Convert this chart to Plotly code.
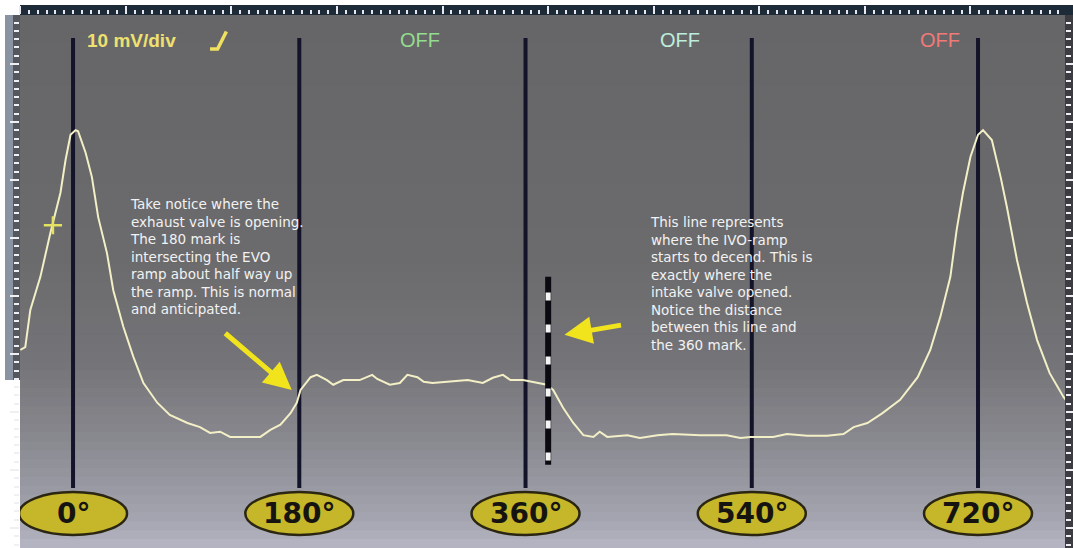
import plotly.graph_objects as go

# ---------------- data (crank degrees vs. signal in mV) ----------------
crank_deg = [-42, -38, -34, -26, -18, -10, -6, -2, 2, 4, 10, 15, 20, 27, 32, 40, 48, 56, 67, 77,
             91, 101, 109, 117, 125, 149, 157, 165, 173, 178, 181, 189, 194, 202, 207, 215, 228,
             238, 242, 252, 260, 266, 274, 279, 286, 298, 314, 326, 334, 342, 348, 358, 366, 377,
             382, 390, 398, 406, 414, 419, 425, 441, 451, 465, 477, 499, 520, 531, 539, 557, 568,
             584, 600, 613, 621, 632, 644, 658, 672, 682, 690, 698, 703, 708, 714, 720, 724, 731,
             738, 743, 751, 759, 767, 777, 788, 796]
signal_mv = [20.7, 21.2, 27.6, 33.3, 40.9, 47.8, 53.4, 57.8, 58.6, 58.4, 54.7, 50.5, 43.6, 37.4,
             31.0, 24.7, 19.5, 15.0, 11.6, 9.5, 8.1, 7.4, 6.4, 6.6, 5.7, 5.7, 6.9, 7.8, 9.8, 11.6,
             13.8, 16.0, 16.4, 15.5, 14.7, 15.5, 15.5, 16.4, 15.7, 14.7, 15.0, 16.4, 16.0, 15.2,
             15.0, 15.2, 15.5, 15.0, 15.9, 16.4, 15.5, 15.5, 15.2, 14.7, 13.8, 10.7, 8.1, 6.0, 5.7,
             6.6, 5.7, 6.0, 5.5, 6.0, 6.2, 6.0, 6.0, 5.5, 5.7, 5.7, 6.2, 5.9, 5.9, 6.2, 7.4, 8.1,
             9.8, 12.1, 16.0, 20.7, 26.4, 33.3, 41.4, 47.8, 54.0, 57.8, 58.6, 56.9, 50.5, 45.3,
             36.2, 28.8, 22.4, 16.7, 12.6, 10.3]

marker_deg = [0, 180, 360, 540, 720]
marker_labels = ["0°", "180°", "360°", "540°", "720°"]
ivo_deg = 378
trigger_deg = -16
trigger_mv = 42.2
channel_deg = [276, 483, 690]
channel_labels = ["OFF", "OFF", "OFF"]
scale_label = "10 mV/div"

note_left = ["Take notice where the", "exhaust valve is opening.", "The 180 mark is",
             "intersecting the EVO", "ramp about half way up", "the ramp. This is normal",
             "and anticipated."]
note_right = ["This line represents", "where the IVO-ramp", "starts to decend. This is",
              "exactly where the", "intake valve opened.", "Notice the distance",
              "between this line and", "the 360 mark."]

# ---------------- styling constants ----------------
W, H = 1073, 548
ML, MR, MT, MB = 20, 8, 15, 0
X_RANGE = [-42.2, 789.2]
Y_RANGE = [-13.45, 78.45]
LINE_TOP, LINE_BOT = 74.5, -3.1
LABEL_Y = -7.5
PW, PH = W - ML - MR, H - MT - MB

fig = go.Figure()

# background gradient (bands in paper coords)
stops = [(0.0, (0xb6, 0xb6, 0xc4)), (0.05, (0xa6, 0xa6, 0xb2)), (0.12, (0x98, 0x98, 0xa2)),
         (0.22, (0x86, 0x86, 0x8c)), (0.35, (0x74, 0x74, 0x78)), (0.55, (0x6b, 0x6b, 0x6d)),
         (1.0, (0x66, 0x66, 0x68))]


def interp(t):
    for (t0, c0), (t1, c1) in zip(stops[:-1], stops[1:]):
        if t0 <= t <= t1:
            f = (t - t0) / (t1 - t0)
            return "rgb(%d,%d,%d)" % tuple(round(a + (b - a) * f) for a, b in zip(c0, c1))
    return "rgb(102,102,104)"


shapes = []
N = 60
for i in range(N):
    y0 = i / N
    y1 = (i + 1) / N
    shapes.append(dict(type="rect", xref="paper", yref="paper", x0=0, x1=1, y0=y0, y1=y1 + 0.002,
                       fillcolor=interp((y0 + y1) / 2), line=dict(width=0), layer="below"))

# top ruler band
shapes.append(dict(type="rect", xref="paper", yref="paper", x0=0, x1=1 + MR / PW,
                   y0=1, y1=1 + 10 / PH, fillcolor="#1d2b39", line=dict(width=0), layer="below"))
# left ruler strip
shapes.append(dict(type="rect", xref="paper", yref="paper", x0=-15 / PW, x1=0,
                   y0=(548 - 380) / PH, y1=1, fillcolor="#8a93a1", line=dict(width=0),
                   layer="below"))
shapes.append(dict(type="rect", xref="paper", yref="paper", x0=-7 / PW, x1=0,
                   y0=(548 - 380) / PH, y1=1, fillcolor="#55575e", line=dict(width=0),
                   layer="below"))
# right ruler strip
shapes.append(dict(type="rect", xref="paper", yref="paper", x0=1, x1=1 + MR / PW,
                   y0=0, y1=1, fillcolor="#3c3c42", line=dict(width=0), layer="below"))

# crank-angle marker lines
for d in marker_deg:
    shapes.append(dict(type="line", xref="x", yref="y", x0=d, x1=d, y0=LINE_BOT, y1=LINE_TOP,
                       line=dict(color="#13132a", width=4), layer="below"))

# label ellipses
for d in marker_deg:
    shapes.append(dict(type="circle", xref="x", yref="y", xsizemode="pixel", ysizemode="pixel",
                       xanchor=d, yanchor=LABEL_Y, x0=-54, x1=54, y0=-21.5, y1=21.5,
                       fillcolor="#c6b62a", line=dict(color="#2a2612", width=2.5), layer="above"))

# trigger slope icon
shapes.append(dict(type="path", xref="x", yref="y",
                   path="M 109 72.6 L 115 72.6 L 122 75.6",
                   line=dict(color="#f0e060", width=3.5)))

fig.add_trace(go.Scatter(x=crank_deg, y=signal_mv, mode="lines",
                         line=dict(color="#f3efc6", width=2), hoverinfo="skip", showlegend=False))

# IVO dashed marker
fig.add_trace(go.Scatter(x=[ivo_deg, ivo_deg], y=[33.3, 0.9], mode="lines",
                         line=dict(color="#0a0a10", width=6), showlegend=False, hoverinfo="skip"))
fig.add_trace(go.Scatter(x=[ivo_deg, ivo_deg], y=[30.6, 0.9], mode="lines",
                         line=dict(color="#f4f4f4", width=5, dash="8px,24px"), showlegend=False,
                         hoverinfo="skip"))

# trigger marker
fig.add_trace(go.Scatter(x=[trigger_deg], y=[trigger_mv], mode="markers",
                         marker=dict(symbol="cross-thin", size=13, line=dict(color="#e4e060", width=2.5)),
                         showlegend=False, hoverinfo="skip"))

annotations = []
for d, t in zip(marker_deg, marker_labels):
    annotations.append(dict(x=d, y=LABEL_Y, xref="x", yref="y", text="<b>%s</b>" % t,
                            showarrow=False,
                            font=dict(family="DejaVu Sans", size=28, color="#161410")))

off_colors = ["#94dc8e", "#bdeedd", "#f07a78"]
for d, t, c in zip(channel_deg, channel_labels, off_colors):
    annotations.append(dict(x=d, y=74.1, xref="x", yref="y", text=t, showarrow=False,
                            font=dict(family="Liberation Sans", size=20, color=c)))

annotations.append(dict(x=9.5, y=74.1, xref="x", yref="y", text="<b>%s</b>" % scale_label,
                        xanchor="left", showarrow=False,
                        font=dict(family="Liberation Sans", size=19, color="#efe070")))

annotations.append(dict(x=43.8, y=47.6, xref="x", yref="y", text="<br>".join(note_left),
                        xanchor="left", yanchor="top", align="left", showarrow=False,
                        font=dict(family="DejaVu Sans", size=13.5, color="#f2f2f2")))
annotations.append(dict(x=457.5, y=44.4, xref="x", yref="y", text="<br>".join(note_right),
                        xanchor="left", yanchor="top", align="left", showarrow=False,
                        font=dict(family="DejaVu Sans", size=13.5, color="#f2f2f2")))

# yellow arrows
annotations.append(dict(x=174, y=13.8, xref="x", yref="y", ax=-68, ay=-58, text="",
                        showarrow=True, arrowhead=2, arrowsize=1.1, arrowwidth=5,
                        arrowcolor="#f2e41c"))
annotations.append(dict(x=391, y=23.3, xref="x", yref="y", ax=58, ay=-10, text="",
                        showarrow=True, arrowhead=2, arrowsize=1.1, arrowwidth=5,
                        arrowcolor="#f2e41c"))

fig.update_layout(
    width=W, height=H,
    margin=dict(l=ML, r=MR, t=MT, b=MB, autoexpand=False),
    paper_bgcolor="#ffffff", plot_bgcolor="#666668",
    shapes=shapes, annotations=annotations, showlegend=False,
    xaxis=dict(range=X_RANGE, side="top", showgrid=False, zeroline=False, showticklabels=False,
               automargin=False,
               ticks="outside", ticklen=8, tickwidth=2, tickcolor="#e8e8f0", tick0=-42, dtick=84,
               minor=dict(ticks="outside", ticklen=4, tickwidth=1.5, tickcolor="#e8e8f0", dtick=7),
               showline=False, fixedrange=True),
    yaxis=dict(range=Y_RANGE, showgrid=False, zeroline=False, showticklabels=False,
               automargin=False,
               ticks="outside", ticklen=9, tickwidth=2, tickcolor="#f0f0f4", tick0=0, dtick=10,
               minor=dict(ticks="outside", ticklen=5, tickwidth=1.5, tickcolor="#f0f0f4", dtick=10 / 7),
               mirror="ticks", showline=False, fixedrange=True),
)

fig.write_html("out.html", config={"displayModeBar": False},
               post_script="document.body.style.margin='0';document.body.style.padding='0';")
